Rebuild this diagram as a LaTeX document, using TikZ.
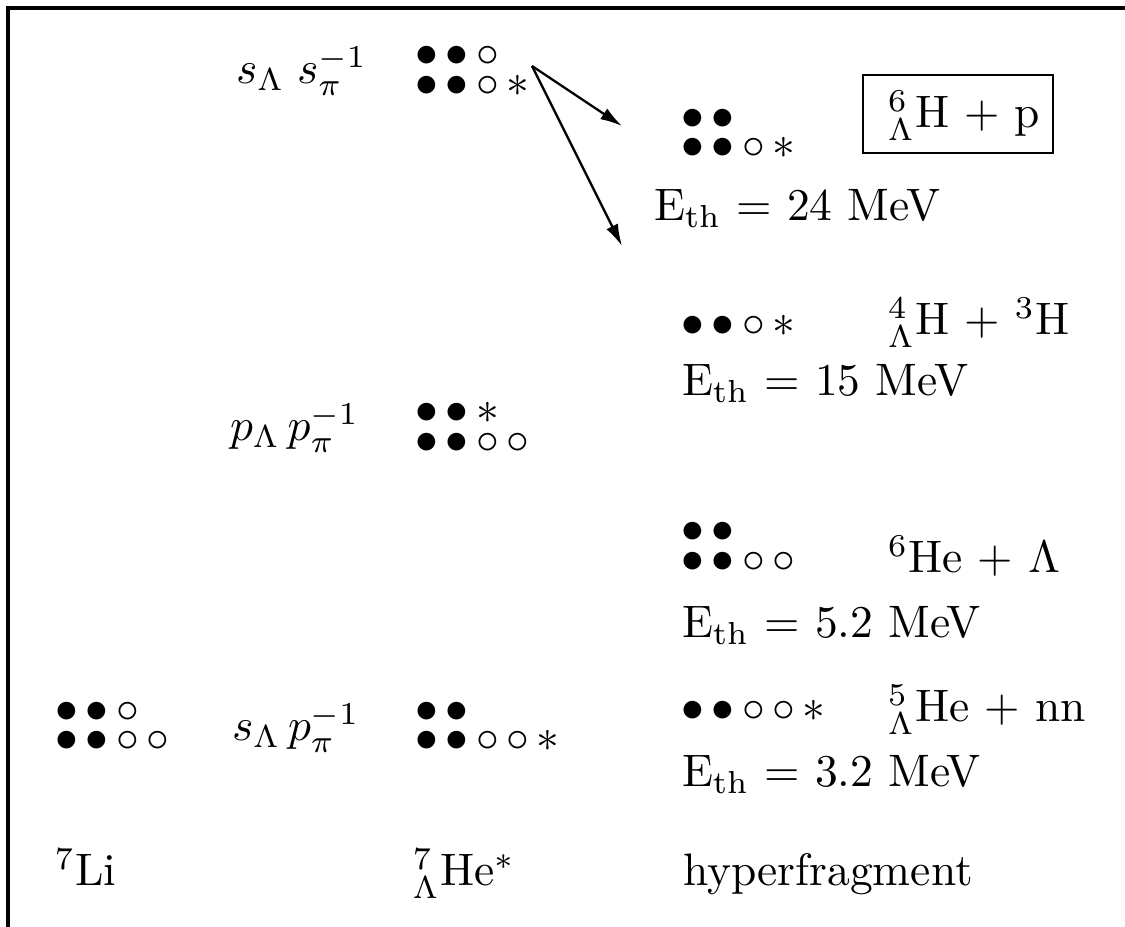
\documentclass[tikz,border=0pt]{standalone}
\usetikzlibrary{arrows.meta}
\tikzset{
  lbl/.style={anchor=base west, inner sep=0pt, outer sep=0pt},
  dotrow/.style={anchor=base west, inner sep=0pt, outer sep=0pt, xshift=-0.55pt, yshift=-2.5pt},
  framest/.style={line width=0.9pt},
  boxst/.style={draw, line width=0.6pt, minimum width=41.8pt, minimum height=17.1pt, inner sep=0pt},
  arr/.style={line width=0.5pt, -{Latex[length=4.8pt,width=2.8pt]}},
}
\newcommand{\fb}{{\bullet}}
\newcommand{\ob}{{\circ}}
\newcommand{\as}{{\ast}}
\begin{document}
\begin{tikzpicture}[x=0.21978pt, y=-0.21978pt]
\useasboundingbox (0,0) rectangle (1125,927);
% frame
\coordinate (fbl) at (8,960);
\coordinate (ftl) at (8,8);
\coordinate (ftr) at (1160,8);
\draw[framest] (fbl) -- (ftl) -- (ftr);

% top group
\node[lbl] (lss) at (236,84) {$s_\Lambda\;s_\pi^{-1}$};
\node[dotrow] (t1) at (418,55) {$\fb\,\fb\,\ob$};
\node[dotrow] (t2) at (418,85) {$\fb\,\fb\,\ob\,\as$};

% middle group
\node[lbl] (lpp) at (230,441) {$p_\Lambda\,p_\pi^{-1}$};
\node[dotrow] (m1) at (418,412) {$\fb\,\fb\,\as$};
\node[dotrow] (m2) at (418,442) {$\fb\,\fb\,\ob\,\ob$};

% bottom group
\node[dotrow] (l1) at (58,711) {$\fb\,\fb\,\ob$};
\node[dotrow] (l2) at (58,740) {$\fb\,\fb\,\ob\,\ob$};
\node[lbl] (lsp) at (232,741) {$s_\Lambda\,p_\pi^{-1}$};
\node[dotrow] (h1) at (418,711) {$\fb\,\fb$};
\node[dotrow] (h2) at (418,740) {$\fb\,\fb\,\ob\,\ob\,\as$};

% bottom labels
\node[lbl] (li) at (55,886) {$^7$Li};
\node[lbl] (he) at (413,886) {$^7_\Lambda$He$^*$};
\node[lbl] (hf) at (683,886) {hyperfragment};

% right column
\node[dotrow] (a1) at (684,118) {$\fb\,\fb$};
\node[dotrow] (a2) at (684,147) {$\fb\,\fb\,\ob\,\as$};
\node[boxst] (box) at (958,114) {};
\node[lbl] (la) at (888,128) {$^6_\Lambda$H + p};
\node[lbl] (ea) at (654,221) {E$_{\mathrm{th}}$ = 24 MeV};

\node[dotrow] (b1) at (684,325) {$\fb\,\fb\,\ob\,\as$};
\node[lbl] (lb) at (888,335) {$^4_\Lambda$H + $^3$H};
\node[lbl] (eb) at (682,396) {E$_{\mathrm{th}}$ = 15 MeV};

\node[dotrow] (c1) at (684,531) {$\fb\,\fb$};
\node[dotrow] (c2) at (684,561) {$\fb\,\fb\,\ob\,\ob$};
\node[lbl] (lc) at (888,573) {$^6$He + $\Lambda$};
\node[lbl] (ec) at (682,638) {E$_{\mathrm{th}}$ = 5.2 MeV};

\node[dotrow] (d1) at (684,710) {$\fb\,\fb\,\ob\,\ob\,\as$};
\node[lbl] (ld) at (888,722) {$^5_\Lambda$He + nn};
\node[lbl] (ed) at (682,787) {E$_{\mathrm{th}}$ = 3.2 MeV};

% arrows
\coordinate (src) at (532,66);
\coordinate (tgA) at (622,126);
\coordinate (tgB) at (622,246);
\draw[arr] (src) -- (tgA);
\draw[arr] (src) -- (tgB);
\end{tikzpicture}
\end{document}
